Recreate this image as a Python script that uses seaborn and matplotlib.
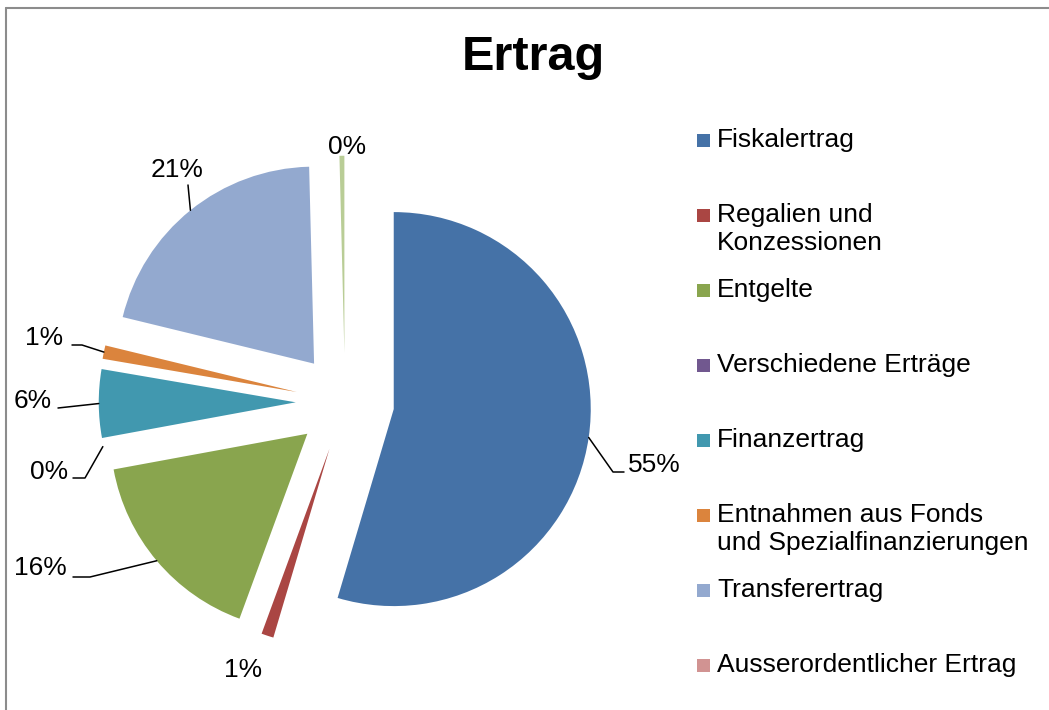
import numpy as np
import matplotlib
matplotlib.use("Agg")
import matplotlib.pyplot as plt
import seaborn as sns
from matplotlib.patches import Rectangle
from matplotlib.lines import Line2D

# Data (shares in percent)
categories = [
    "Fiskalertrag",
    "Regalien und\nKonzessionen",
    "Entgelte",
    "Verschiedene Erträge",
    "Finanzertrag",
    "Entnahmen aus Fonds\nund Spezialfinanzierungen",
    "Transferertrag",
    "Ausserordentlicher Ertrag",
    "",  # ninth slice, legend entry cut off in the original
]
shares = [54.6, 1.0, 16.5, 0.0, 5.6, 1.1, 20.8, 0.0, 0.4]
colors = ["#4572A7", "#AA4643", "#89A54E", "#71588F", "#4198AF",
          "#DB843D", "#93A9CF", "#D19392", "#B9CD96"]

sns.set_theme(style="white")
plt.rcParams["font.family"] = ["Liberation Sans", "DejaVu Sans"]
plt.rcParams["text.color"] = "black"

W, H = 1049, 710
fig = plt.figure(figsize=(W / 100, H / 100), dpi=100)
ax = fig.add_axes([0, 0, 1, 1])

# pie centre / radius in pixels
cx, cy, rad = 345, 402, 197

wedges, _ = ax.pie(shares, colors=colors, explode=[0.25] * len(shares),
                   startangle=90, counterclock=False, radius=1,
                   center=(0, 0), wedgeprops=dict(linewidth=0))
ax.set_aspect("auto")
ax.set_xlim(-cx / rad, (W - cx) / rad)
ax.set_ylim((cy - H) / rad, cy / rad)
ax.axis("off")


def d(x, y):
    """pixel -> data coords"""
    return (x - cx) / rad, (cy - y) / rad


# label layout: text position (px), alignment, elbow, line end
label_layout = {
    0: ((628, 465), "left", (613, 472), (624, 472)),
    1: ((243, 670), "center", None, None),
    2: ((67, 568), "right", (90, 577), (73, 577)),
    3: ((68, 472), "right", (85, 478), (73, 478)),
    4: ((52, 401), "right", None, (58, 408)),
    5: ((63, 338), "right", (82, 345), (72, 345)),
    6: ((177, 170), "center", None, (188, 185)),
    8: ((347, 147), "center", None, None),
}

for i, (pos, ha, elbow, end) in label_layout.items():
    w = wedges[i]
    ang = np.deg2rad((w.theta1 + w.theta2) / 2)
    ax_, ay_ = w.center[0] + w.r * np.cos(ang), w.center[1] + w.r * np.sin(ang)
    tx, ty = d(*pos)
    ax.text(tx, ty, f"{round(shares[i]):.0f}%", ha=ha, va="center",
            fontsize=19, color="black")
    if end is not None:
        pts = [(ax_, ay_)]
        if elbow is not None:
            pts.append(d(*elbow))
        pts.append(d(*end))
        xs, ys = zip(*pts)
        ax.plot(xs, ys, color="black", lw=1.1)

# title
fig.text(533 / W, 1 - 58 / H, "Ertrag", ha="center", va="center",
         fontsize=35, fontweight="bold", color="black")

# legend (Excel style, equal spacing)
for i, name in enumerate(categories[:8]):
    y = 140 + 75 * i
    fig.patches.append(Rectangle(((697) / W, 1 - (y + 7) / H), 13 / W, 13 / H,
                                 transform=fig.transFigure,
                                 facecolor=colors[i], edgecolor="none"))
    for j, line in enumerate(name.split("\n")):
        fig.text(717 / W, 1 - (y + 28 * j) / H, line, ha="left",
                 va="center", fontsize=19, color="black")

# chart area border (left and top visible)
fig.lines.append(Line2D([6 / W, 6 / W], [0, 1 - 8 / H],
                        transform=fig.transFigure, color="#8c8c8c", lw=1.5))
fig.lines.append(Line2D([6 / W, 1], [1 - 8 / H, 1 - 8 / H],
                        transform=fig.transFigure, color="#8c8c8c", lw=1.5))

fig.savefig("out.png", dpi=100)
